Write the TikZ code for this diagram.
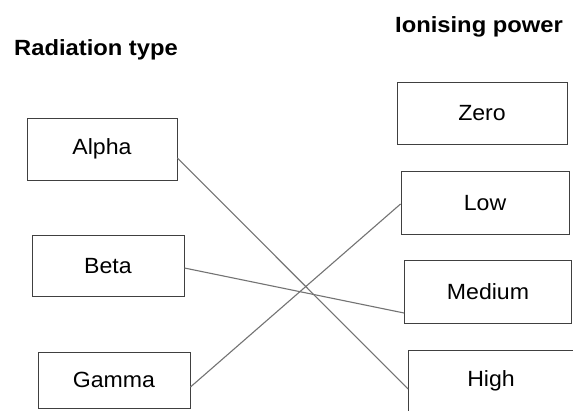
\documentclass[tikz,border=0pt]{standalone}
\usepackage{fontspec}
\setmainfont{Liberation Sans}
\begin{document}
\begin{tikzpicture}[x=1pt,y=-1pt,
  choice/.style={draw=black!75,line width=0.9pt,inner sep=0pt,font=\fontsize{22}{24}\selectfont},
  heading/.style={font=\bfseries\fontsize{22}{24}\selectfont,inner sep=0pt},
  link/.style={draw=black!55,line width=1.1pt}]
\path[use as bounding box,clip] (0,0) rectangle (573,410);
\fill[white] (0,0) rectangle (573,410);
\node[heading] (hl) at (96,50) {\scalebox{1.08}[1]{Radiation type}};
\node[heading] (hr) at (479,27) {\scalebox{1.08}[1]{Ionising power}};
\node[choice,minimum width=150pt,minimum height=62pt] (alpha) at (102,149) {\scalebox{1.05}[1]{Alpha}};
\node[choice,minimum width=152pt,minimum height=61pt] (beta) at (108,266) {\scalebox{1.05}[1]{Beta}};
\node[choice,minimum width=152pt,minimum height=56pt] (gamma) at (114,380) {\scalebox{1.05}[1]{Gamma}};
\node[choice,minimum width=170pt,minimum height=62pt] (zero) at (482,113) {\scalebox{1.05}[1]{Zero}};
\node[choice,minimum width=168pt,minimum height=63pt] (low) at (485,203) {\scalebox{1.05}[1]{Low}};
\node[choice,minimum width=167pt,minimum height=63pt] (medium) at (488,292) {\scalebox{1.05}[1]{Medium}};
\node[choice,minimum width=165pt,minimum height=62pt] (high) at (491,381) {\scalebox{1.05}[1]{High}};
\draw[link] ([yshift=-9pt]alpha.east) -- ([yshift=-8pt]high.west);
\draw[link] ([yshift=-2pt]beta.east) -- ([yshift=-21pt]medium.west);
\draw[link] ([yshift=-7pt]gamma.east) -- ([yshift=-1pt]low.west);
\end{tikzpicture}
\end{document}
